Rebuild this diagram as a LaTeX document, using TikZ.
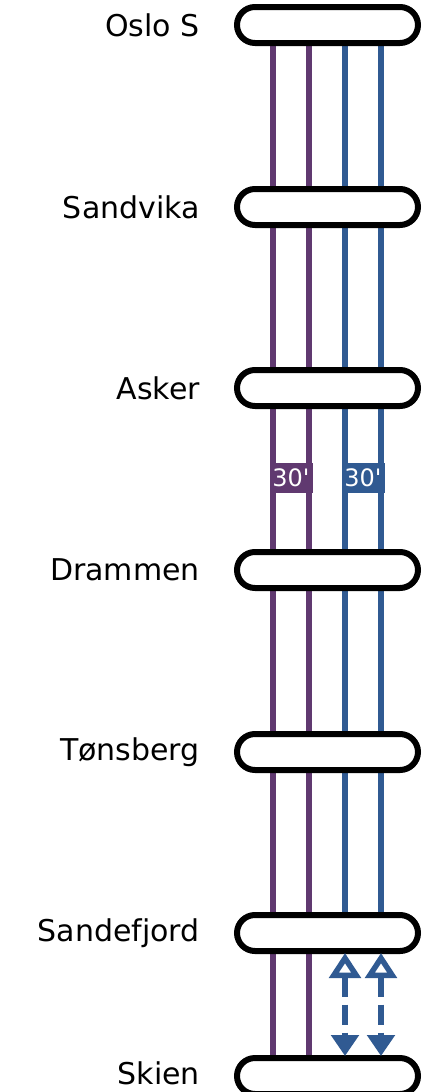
\documentclass[tikz,border=0pt]{standalone}
\usepackage{fontspec}
\setmainfont{DejaVu Sans}
\usetikzlibrary{arrows.meta,shapes.misc}
\definecolor{lpurple}{RGB}{96,57,112}
\definecolor{lblue}{RGB}{48,90,146}
\tikzset{
  station/.style={rounded rectangle, draw=black, line width=6pt, fill=white,
    minimum width=181pt, minimum height=36pt, inner sep=0pt},
  stlabel/.style={anchor=east, font=\fontsize{30}{32}\selectfont, inner sep=0pt},
  pline/.style={lpurple, line width=5.5pt},
  bline/.style={lblue, line width=5.5pt},
  freq/.style={minimum width=43pt, minimum height=30pt, inner sep=0pt, text=white,
    font=\fontsize{24}{26}\selectfont},
  shuttle/.style={lblue, line width=5.5pt, dash pattern=on 20pt off 8pt,
    {Triangle[open, length=25pt, width=31pt, fill=white]}-{Triangle[length=21pt, width=27pt]}}
}
\begin{document}
\begin{tikzpicture}[x=1pt,y=-1pt]
\useasboundingbox (0,0) rectangle (423,1092);
\foreach \n/\y in {osl/25,san/207,ask/388,dra/570,ton/752,sdf/933,ski/1076}{
  \coordinate (\n) at (327.5,\y);
}
\coordinate (p1a) at (273,25); \coordinate (p1b) at (273,1076);
\coordinate (p2a) at (309,25); \coordinate (p2b) at (309,1076);
\coordinate (b1a) at (345,25); \coordinate (b1b) at (345,933);
\coordinate (b2a) at (381,25); \coordinate (b2b) at (381,933);
\draw[pline] (p1a) -- (p1b);
\draw[pline] (p2a) -- (p2b);
\draw[bline] (b1a) -- (b1b);
\draw[bline] (b2a) -- (b2b);
\node[freq, fill=lpurple] (fp) at (291,478) {30\textquotesingle};
\node[freq, fill=lblue] (fb) at (363,478) {30\textquotesingle};
\foreach \n/\t/\dy in {osl/Oslo S/0,san/Sandvika/0,ask/Asker/0,dra/Drammen/0,ton/Tønsberg/0,sdf/Sandefjord/0,ski/Skien/3}{
  \node[station] (box\n) at (\n) {};
  \node[stlabel] (lab\n) at ([yshift=\dy pt]200,0 |- \n) {\t};
}
\coordinate (s1a) at (345,953); \coordinate (s1b) at (345,1056);
\coordinate (s2a) at (381,953); \coordinate (s2b) at (381,1056);
\draw[shuttle] (s1a) -- (s1b);
\draw[shuttle] (s2a) -- (s2b);
\end{tikzpicture}
\end{document}
